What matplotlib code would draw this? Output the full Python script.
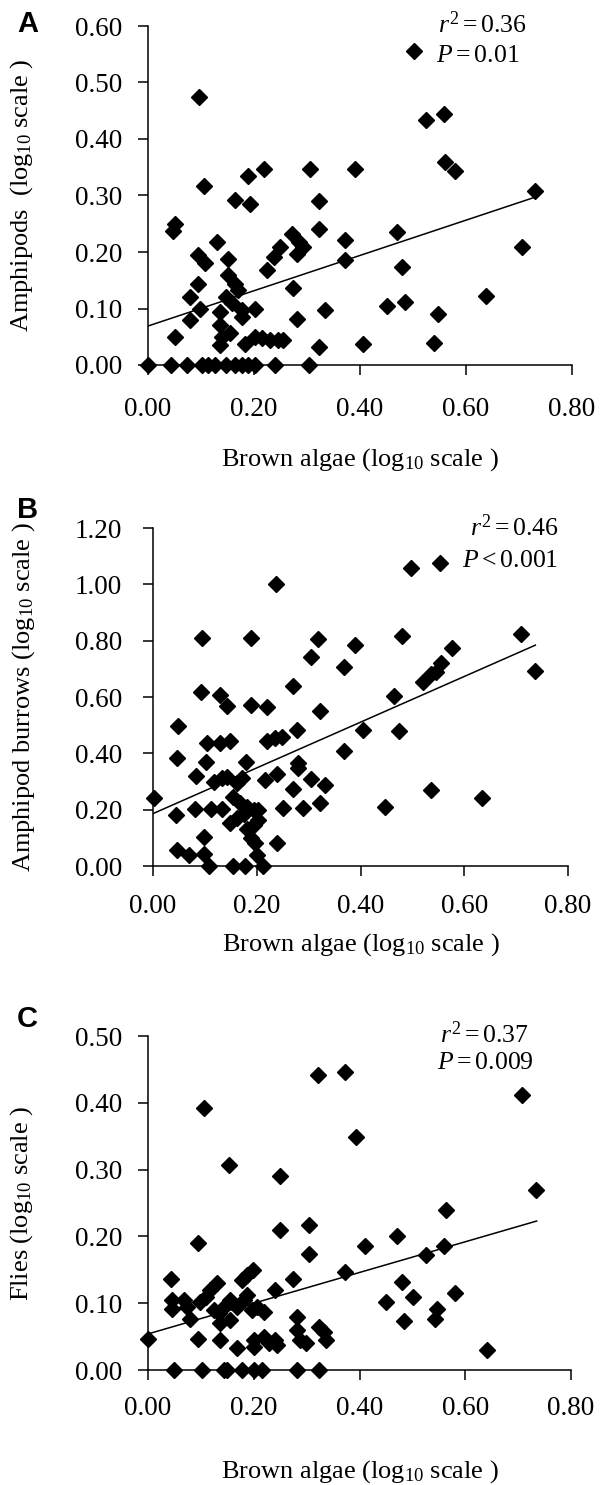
import matplotlib
matplotlib.use("Agg")
import matplotlib.pyplot as plt
from matplotlib.ticker import FormatStrFormatter, MultipleLocator

plt.rcParams["font.family"] = "Liberation Serif"
plt.rcParams["mathtext.fontset"] = "custom"
plt.rcParams["mathtext.rm"] = "Liberation Serif"
plt.rcParams["mathtext.it"] = "Liberation Serif:italic"

# Panel A: brown algae vs amphipods (log10)
algae_a = [0.000, 0.044, 0.073, 0.101, 0.114, 0.126, 0.148, 0.164, 0.177, 0.189, 0.202, 0.240, 0.303,
           0.096, 0.106, 0.050, 0.047, 0.131, 0.189, 0.218, 0.164, 0.192, 0.305, 0.390, 0.323, 0.322,
           0.372, 0.372, 0.095, 0.107, 0.150, 0.151, 0.164, 0.170, 0.224, 0.237, 0.249, 0.271, 0.284,
           0.293, 0.281, 0.273, 0.281, 0.334, 0.322, 0.095, 0.079, 0.098, 0.079, 0.050, 0.136, 0.136,
           0.139, 0.136, 0.155, 0.148, 0.158, 0.177, 0.177, 0.202, 0.183, 0.202, 0.215, 0.230, 0.246,
           0.255, 0.405, 0.501, 0.524, 0.558, 0.561, 0.580, 0.469, 0.479, 0.450, 0.484, 0.547, 0.638,
           0.539, 0.731, 0.705]
amph_a = [0.000, 0.000, 0.000, 0.000, 0.000, 0.000, 0.000, 0.000, 0.000, 0.000, 0.000, 0.000, 0.000,
          0.475, 0.316, 0.250, 0.237, 0.218, 0.334, 0.347, 0.292, 0.285, 0.347, 0.347, 0.291, 0.241,
          0.222, 0.185, 0.194, 0.181, 0.188, 0.159, 0.144, 0.132, 0.168, 0.191, 0.209, 0.231, 0.218,
          0.209, 0.197, 0.137, 0.082, 0.097, 0.032, 0.144, 0.120, 0.100, 0.079, 0.050, 0.094, 0.071,
          0.050, 0.035, 0.056, 0.120, 0.109, 0.097, 0.085, 0.100, 0.038, 0.050, 0.047, 0.044, 0.044,
          0.044, 0.038, 0.555, 0.434, 0.444, 0.359, 0.344, 0.235, 0.173, 0.104, 0.112, 0.091, 0.122,
          0.039, 0.308, 0.208]
fit_x_a = [0.0, 0.727]
fit_y_a = [0.069, 0.296]

# Panel B: brown algae vs amphipod burrows (log10)
algae_b = [0.237, 0.095, 0.189, 0.319, 0.389, 0.305, 0.369, 0.269, 0.093, 0.130, 0.143, 0.189, 0.220,
           0.321, 0.048, 0.405, 0.277, 0.248, 0.220, 0.236, 0.104, 0.130, 0.149, 0.369, 0.047, 0.103,
           0.180, 0.280, 0.280, 0.082, 0.117, 0.133, 0.143, 0.162, 0.172, 0.216, 0.239, 0.269, 0.305,
           0.331, 0.322, 0.002, 0.045, 0.080, 0.111, 0.133, 0.155, 0.168, 0.181, 0.194, 0.203, 0.149,
           0.162, 0.175, 0.181, 0.194, 0.203, 0.250, 0.290, 0.239, 0.099, 0.047, 0.069, 0.098, 0.107,
           0.155, 0.178, 0.200, 0.213, 0.188, 0.197, 0.498, 0.554, 0.480, 0.576, 0.555, 0.545, 0.535,
           0.520, 0.464, 0.475, 0.536, 0.634, 0.447, 0.710, 0.736]
burrows_b = [1.000, 0.809, 0.809, 0.805, 0.783, 0.743, 0.706, 0.639, 0.619, 0.607, 0.568, 0.572, 0.566,
             0.551, 0.498, 0.483, 0.483, 0.459, 0.445, 0.453, 0.436, 0.436, 0.443, 0.409, 0.382, 0.370,
             0.370, 0.347, 0.365, 0.319, 0.299, 0.311, 0.317, 0.293, 0.311, 0.307, 0.326, 0.275, 0.308,
             0.287, 0.224, 0.240, 0.180, 0.202, 0.201, 0.204, 0.246, 0.222, 0.210, 0.198, 0.198, 0.151,
             0.169, 0.186, 0.133, 0.145, 0.163, 0.206, 0.206, 0.080, 0.103, 0.056, 0.038, 0.044, 0.000,
             0.000, 0.000, 0.038, 0.000, 0.098, 0.080, 1.058, 1.076, 0.817, 0.774, 0.720, 0.690, 0.680,
             0.655, 0.604, 0.480, 0.269, 0.243, 0.208, 0.823, 0.691]
fit_x_b = [0.0, 0.737]
fit_y_b = [0.186, 0.784]

# Panel C: brown algae vs flies (log10)
algae_c = [0.106, 0.153, 0.250, 0.095, 0.250, 0.305, 0.305, 0.373, 0.044, 0.199, 0.188, 0.178, 0.274,
           0.241, 0.131, 0.118, 0.109, 0.099, 0.046, 0.046, 0.068, 0.074, 0.080, 0.124, 0.134, 0.143,
           0.156, 0.169, 0.181, 0.188, 0.197, 0.206, 0.219, 0.137, 0.156, 0.282, 0.324, 0.000, 0.095,
           0.136, 0.169, 0.200, 0.200, 0.219, 0.228, 0.241, 0.244, 0.282, 0.288, 0.298, 0.336, 0.332,
           0.049, 0.102, 0.143, 0.150, 0.178, 0.200, 0.216, 0.282, 0.323,
           0.321, 0.373, 0.394, 0.564, 0.410, 0.470, 0.525, 0.559, 0.481, 0.502, 0.451, 0.581, 0.547,
           0.542, 0.485, 0.641, 0.707, 0.733]
flies_c = [0.392, 0.307, 0.291, 0.190, 0.209, 0.217, 0.174, 0.147, 0.136, 0.150, 0.142, 0.135, 0.136,
           0.120, 0.130, 0.120, 0.110, 0.102, 0.105, 0.092, 0.105, 0.095, 0.077, 0.090, 0.085, 0.095,
           0.105, 0.095, 0.105, 0.112, 0.090, 0.095, 0.087, 0.070, 0.075, 0.080, 0.065, 0.046, 0.047,
           0.045, 0.033, 0.045, 0.035, 0.050, 0.040, 0.045, 0.037, 0.060, 0.045, 0.040, 0.045, 0.057,
           0.000, 0.000, 0.000, 0.000, 0.000, 0.000, 0.000, 0.000, 0.000,
           0.441, 0.446, 0.349, 0.240, 0.186, 0.200, 0.172, 0.186, 0.131, 0.110, 0.102, 0.116, 0.092,
           0.076, 0.074, 0.030, 0.411, 0.270]
fit_x_c = [0.0, 0.735]
fit_y_c = [0.054, 0.223]

W, H = 602, 1485
PT = 72 / 100  # points per pixel at dpi 100

fig = plt.figure(figsize=(W / 100, H / 100), dpi=100)


def add_panel(x, y, fit_x, fit_y, box, ymax, ystep, ylabel, letter, letter_y,
              stats, stats_xy, ylabel_x, xtick_pad, xlabel_y):
    left, top, right, bottom = box
    ax = fig.add_axes([left / W, 1 - bottom / H, (right - left) / W, (bottom - top) / H])
    ax.plot(fit_x, fit_y, color="black", linewidth=1.1, zorder=2)
    ax.plot(x, y, "D", color="black", markersize=8.6, clip_on=False, zorder=3)
    ax.set_xlim(0, 0.8)
    ax.set_ylim(0, ymax)
    ax.xaxis.set_major_locator(MultipleLocator(0.2))
    ax.yaxis.set_major_locator(MultipleLocator(ystep))
    ax.xaxis.set_major_formatter(FormatStrFormatter("%.2f"))
    ax.yaxis.set_major_formatter(FormatStrFormatter("%.2f"))
    for side in ["top", "right"]:
        ax.spines[side].set_visible(False)
    for side in ["left", "bottom"]:
        ax.spines[side].set_linewidth(1.1)
    ax.tick_params(direction="out", length=7, width=1.1, labelsize=19.5)
    ax.tick_params(axis="y", pad=(left - 10 - 122) * PT)
    ax.tick_params(axis="x", pad=xtick_pad * PT)

    ax.set_ylabel(ylabel, fontsize=19)
    ax.yaxis.label.set_va("center")
    ax.yaxis.set_label_coords((ylabel_x - left) / (right - left), 0.5)
    ax.set_xlabel("Brown algae (log$_{10}$ scale )", fontsize=19)
    ax.xaxis.label.set_va("center")
    ax.xaxis.set_label_coords(0.5, -(xlabel_y - bottom) / (bottom - top))

    fig.text(17 / W, 1 - letter_y / H, letter, fontsize=21, fontweight="bold",
             family="Liberation Sans", ha="left", va="center")
    (sx1, sy1), (sx2, sy2) = stats_xy
    fig.text(sx1 / W, 1 - sy1 / H, stats[0], fontsize=18.5, ha="left", va="center")
    fig.text(sx2 / W, 1 - sy2 / H, stats[1], fontsize=18.5, ha="left", va="center")
    return ax


add_panel(algae_a, amph_a, fit_x_a, fit_y_a, (148, 26, 572, 365), 0.6, 0.1,
          "Amphipods  (log$_{10}$ scale )", "A", 24,
          ["$r^2 = 0.36$", "$P = 0.01$"], [(438, 25), (436, 56)], 22, 22, 460)

add_panel(algae_b, burrows_b, fit_x_b, fit_y_b, (153, 528, 568, 866), 1.2, 0.2,
          "Amphipod burrows (log$_{10}$ scale )", "B", 510,
          ["$r^2 = 0.46$", "$P < 0.001$"], [(470, 528), (462, 561)], 24, 18, 945)

add_panel(algae_c, flies_c, fit_x_c, fit_y_c, (148, 1036, 571, 1370), 0.5, 0.1,
          "Flies (log$_{10}$ scale )", "C", 1019,
          ["$r^2 = 0.37$", "$P = 0.009$"], [(440, 1035), (437, 1063)], 22, 16, 1472)

fig.savefig("out.png", dpi=100)
